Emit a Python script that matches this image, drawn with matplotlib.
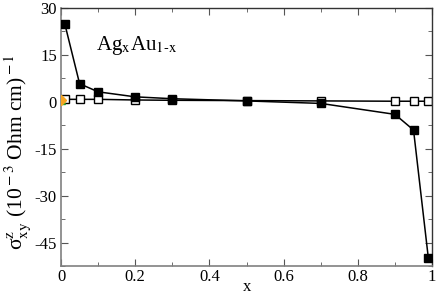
import numpy as np
import matplotlib.pyplot as plt
from matplotlib.ticker import MultipleLocator

# composition x of Ag_x Au_1-x
x_vals = [0.01, 0.05, 0.1, 0.2, 0.3, 0.5, 0.7, 0.9, 0.95, 0.99]
# filled squares
sigma_full = [25.0, 5.8, 3.2, 1.6, 1.0, 0.3, -0.5, -4.0, -9.0, -50.0]
# open squares
sigma_open = [0.8, 0.8, 0.8, 0.6, 0.5, 0.4, 0.3, 0.2, 0.2, 0.2]
# pure Au points at x=0
x_pure = [0.0]
sigma_pure = [0.6]

x_ticks = [0, 0.2, 0.4, 0.6, 0.8, 1.0]
x_ticklabels = ['0', '0.2', '0.4', '0.6', '0.8', '1']
y_ticks = [-45, -30, -15, 0, 15, 30]

plt.rcParams['font.family'] = ['Liberation Serif', 'DejaVu Serif']
plt.rcParams['mathtext.fontset'] = 'stix'
plt.rcParams['axes.unicode_minus'] = False

fig = plt.figure(figsize=(4.36, 2.96), dpi=100)
ax = fig.add_axes([0.140, 0.101, 0.851, 0.872])

ax.plot(x_vals, sigma_open, color='black', lw=1.1, marker='s', ms=5.5,
        mfc='white', mec='black', mew=1.0, zorder=2)
ax.plot(x_vals, sigma_full, color='black', lw=1.1, marker='s', ms=6,
        mfc='black', mec='black', zorder=3)
ax.plot(x_pure, sigma_pure, ls='none', marker='^', ms=6, color='#2ca02c', zorder=4)
ax.plot(x_pure, sigma_pure, ls='none', marker='D', ms=5, color='#f5a623', zorder=5)

ax.set_xlim(0, 1)
ax.set_ylim(-52.5, 30)
ax.set_xticks(x_ticks)
ax.set_xticklabels(x_ticklabels)
ax.set_yticks(y_ticks)
ax.xaxis.set_minor_locator(MultipleLocator(0.1))
ax.yaxis.set_minor_locator(MultipleLocator(7.5))
ax.tick_params(which='both', direction='in', top=True, right=True,
               labelsize=12, color='#555555')
ax.tick_params(axis='x', pad=2)
ax.tick_params(axis='y', pad=3)
ax.tick_params(which='major', length=5)
ax.tick_params(which='minor', length=3)

for s in ['left', 'bottom']:
    ax.spines[s].set_color('#808080')
    ax.spines[s].set_linewidth(1.2)
for s in ['top', 'right']:
    ax.spines[s].set_color('#333333')
    ax.spines[s].set_linewidth(1.0)

ax.set_xlabel('x', fontsize=12, labelpad=-4)
ax.set_ylabel('σ' + r'$^{\rm z}_{\rm xy}$ (10$^{\rm -3}$ Ohm cm)$^{\rm -1}$', fontsize=15.5)
ax.yaxis.set_label_coords(-0.075, 0.44)

ax.text(0.095, 0.855, r'Ag$_{\rm x}$Au$_{\rm 1\text{-}x}$', transform=ax.transAxes,
        fontsize=15, va='center', ha='left')

fig.savefig('out.png', dpi=100)
